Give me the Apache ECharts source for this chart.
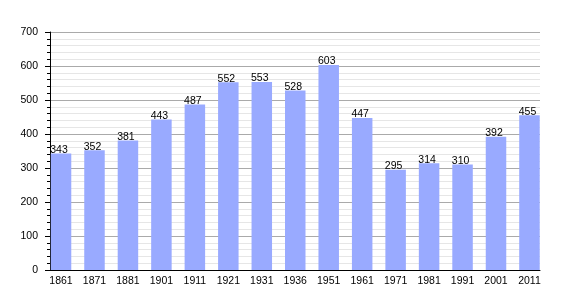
<!DOCTYPE html>
<html><head><meta charset="utf-8">
<script src="https://cdn.jsdelivr.net/npm/echarts@6/dist/echarts.min.js"></script>
<style>html,body{margin:0;padding:0;background:#fff}#c{width:570px;height:300px}</style>
</head><body><div id="c"></div>
<script>
const years = ['1861','1871','1881','1901','1911','1921','1931','1936','1951','1961','1971','1981','1991','2001','2011'];
const population = [343,352,381,443,487,552,553,528,603,447,295,314,310,392,455];
const yTicks = [0,100,200,300,400,500,600,700];

const font = 'Liberation Sans, Arial';
const chart = echarts.init(document.getElementById('c'), null, {renderer:'canvas'});
chart.setOption({
  animation:false,
  grid:[
    {left:50,right:30,top:32,bottom:30},
    {left:44.3,right:23.8,top:32,bottom:30}
  ],
  xAxis:[
    {type:'category', gridIndex:0, data:years, boundaryGap:true,
     axisLine:{lineStyle:{color:'#000',width:1}},
     axisTick:{show:false}, axisLabel:{show:false}, splitLine:{show:false}},
    {type:'category', gridIndex:1, data:years,
     axisLine:{show:false}, axisTick:{show:false},
     axisLabel:{color:'#000',fontFamily:font,fontSize:10.5,margin:6,interval:0}}
  ],
  yAxis:[
    {type:'value', gridIndex:0, min:yTicks[0], max:yTicks[yTicks.length-1], interval:100,
     axisLine:{show:true,lineStyle:{color:'#000',width:1}},
     axisTick:{show:true,length:5,lineStyle:{color:'#000'}},
     minorTick:{show:true,splitNumber:5,length:3,lineStyle:{color:'#000'}},
     splitLine:{lineStyle:{color:'#aaaaaa',width:1}},
     minorSplitLine:{show:true,lineStyle:{color:'#e6e6e6',width:1}},
     axisLabel:{color:'#000',fontFamily:font,fontSize:10.5,margin:12}},
    {type:'value', gridIndex:1, min:yTicks[0], max:yTicks[yTicks.length-1], interval:100,
     axisLine:{show:false}, axisTick:{show:false}, axisLabel:{show:false}, splitLine:{show:false}}
  ],
  series:[{
    type:'bar', xAxisIndex:1, yAxisIndex:1, data:population, barWidth:20.5,
    itemStyle:{color:'#99aaff'},
    label:{show:true,position:'top',distance:-2,offset:[-2,0],color:'#000',fontFamily:font,fontSize:10.5}
  }]
});
</script></body></html>
